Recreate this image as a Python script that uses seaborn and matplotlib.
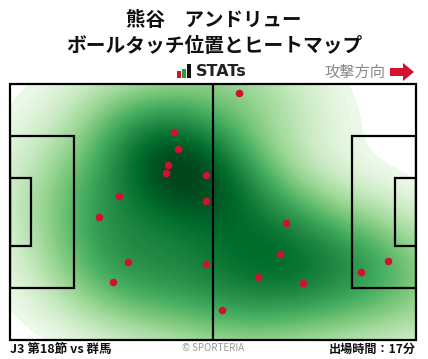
import numpy as np
import pandas as pd
import matplotlib
matplotlib.use("Agg")
import matplotlib.pyplot as plt
from matplotlib.patches import Polygon, Rectangle
from matplotlib.colors import ListedColormap
import seaborn as sns

# ---- data (pitch metres, 105 x 68, y measured from bottom) ----
touch_x = [42.5, 43.5, 40.9, 40.4, 50.8, 28.3, 50.8, 23.1, 59.3, 30.6,
           26.7, 50.8, 54.7, 71.5, 69.9, 64.2, 75.9, 90.9, 97.8]
touch_y = [55.2, 50.7, 46.4, 44.3, 43.8, 38.2, 36.8, 32.7, 65.5, 20.6,
           15.3, 20.1, 7.9, 31.0, 22.8, 16.7, 15.1, 18.0, 20.9]

title_lines = ["熊谷　アンドリュー", "ボールタッチ位置とヒートマップ"]
footer_left = "J3 第18節 vs 群馬"
footer_right = "出場時間：17分"
credit = "© SPORTERIA"
direction_label = "攻撃方向"
brand = "STATs"

W, H = 428, 359
sns.set_theme(style="white")
plt.rcParams['font.family'] = ['Noto Sans CJK JP', 'DejaVu Sans']

fig = plt.figure(figsize=(W / 100, H / 100), dpi=100)
fig.patch.set_facecolor("white")

def fx(px):
    return px / W

def fy(py):
    return 1 - py / H

# white below a small cut, then Greens with gamma compression
greens = plt.get_cmap("Greens")
t = np.linspace(0, 1, 1024)
cut = 0.012
cols = []
for v in t:
    if v < cut:
        cols.append((1, 1, 1, 1))
    else:
        u = (v - cut) / (1 - cut)
        cols.append(greens(0.03 + 0.97 * u ** 0.62))
cmap = ListedColormap(cols)

# iso-proportion levels, dense at the low end for smooth tails
props = np.unique(np.round(np.r_[np.linspace(0, 0.06, 60), np.linspace(0.06, 1, 110)], 6))

ax = fig.add_axes([fx(10), fy(340), (416 - 10) / W, (340 - 84) / H])
df = pd.DataFrame({"x": touch_x, "y": touch_y})
sns.kdeplot(data=df, x="x", y="y", fill=True, cmap=cmap, levels=list(props),
            bw_adjust=1.1, clip=((0, 105), (0, 68)), ax=ax, zorder=1)
ax.set_xlim(0, 105)
ax.set_ylim(0, 68)
ax.set_axis_off()

lw = 1.6
lc = "black"
ax.add_patch(Rectangle((0, 0), 105, 68, fill=False, lw=lw, ec=lc, zorder=3, clip_on=False))
ax.plot([52.5, 52.5], [0, 68], color=lc, lw=lw, zorder=3)
pa_w, pa_d = 40.32, 16.5
ga_w, ga_d = 18.32, 5.5
for x0, d in [(0, pa_d), (105 - pa_d, pa_d)]:
    ax.add_patch(Rectangle((x0, 34 - pa_w / 2), d, pa_w, fill=False, lw=lw, ec=lc, zorder=3))
for x0, d in [(0, ga_d), (105 - ga_d, ga_d)]:
    ax.add_patch(Rectangle((x0, 34 - ga_w / 2), d, ga_w, fill=False, lw=lw, ec=lc, zorder=3))

sns.scatterplot(data=df, x="x", y="y", color="#d3102f", s=30, linewidth=0,
                ax=ax, zorder=4, legend=False)
ax.set_xlabel("")
ax.set_ylabel("")

# titles
fig.text(0.5, fy(20), title_lines[0], ha="center", va="center",
         fontsize=14, fontweight="bold", color="#111111")
fig.text(0.5, fy(46), title_lines[1], ha="center", va="center",
         fontsize=14.2, fontweight="bold", color="#111111")

# STATs logo
for (x0, y0, x1, y1, c) in [(177, 71, 181, 78, "#d3102f"),
                            (182, 69, 186, 78, "#2a9d3a"),
                            (187, 64, 191, 78, "#111111")]:
    fig.patches.append(Rectangle((fx(x0), fy(y1)), fx(x1) - fx(x0), fy(y0) - fy(y1),
                                 transform=fig.transFigure, color=c, lw=0))
fig.text(fx(196), fy(72), brand, ha="left", va="center", fontsize=11.5,
         fontweight="bold", color="#222222", family=["DejaVu Sans"])

# direction label and arrow
fig.text(fx(385), fy(72), direction_label, ha="right", va="center",
         fontsize=11, color="#888888")
arrow_px = [(390, 68), (403, 68), (403, 63), (414, 72), (403, 81), (403, 76), (390, 76)]
fig.patches.append(Polygon([(fx(a), fy(b)) for a, b in arrow_px], closed=True,
                           transform=fig.transFigure, color="#d3102f", lw=0))

# footer
fig.text(fx(10), fy(349), footer_left, ha="left", va="center", fontsize=9,
         fontweight="bold", color="#111111")
fig.text(fx(213), fy(348), credit, ha="center", va="center", fontsize=7,
         color="#999999")
fig.text(fx(416), fy(349), footer_right, ha="right", va="center", fontsize=8.7,
         fontweight="bold", color="#111111")

fig.savefig("out.png", dpi=100, facecolor="white")
